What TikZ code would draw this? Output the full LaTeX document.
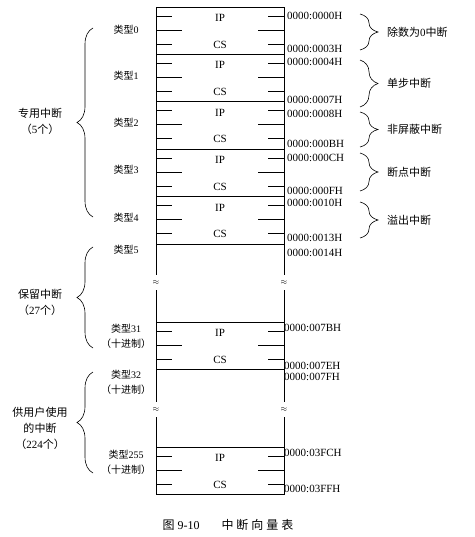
\documentclass[tikz,border=0pt]{standalone}
\usepackage{fontspec}
\setmainfont{Liberation Serif}
\newfontfamily\cjk{Noto Sans CJK SC}
\newfontfamily\cjkwide[LetterSpace=25]{Noto Sans CJK SC}
\usetikzlibrary{decorations.pathreplacing}

\begin{document}
\begin{tikzpicture}[
    x=1pt, y=-1pt,
    every node/.style={inner sep=0pt},
    cell/.style={line width=0.8pt},
    tick/.style={line width=0.6pt},
    word/.style={font=\fontsize{11}{13}\selectfont},
    typ/.style={font=\fontsize{10}{15}\selectfont, align=center},
    addr/.style={font=\fontsize{11}{13}\selectfont, anchor=west},
    note/.style={font=\fontsize{11}{13}\selectfont, anchor=west},
    grp/.style={font=\cjk\fontsize{11}{16}\selectfont, align=center},
    rbrace/.style={decorate, decoration={brace, amplitude=18pt}, line width=0.6pt},
    lbrace/.style={decorate, decoration={brace, amplitude=16pt}, line width=0.6pt},
]
\useasboundingbox (0,0) rectangle (474,537);
\def\xl{156}
\def\xr{284}

% ---------------- the vector slots
\foreach \t/\n in {7/s0, 54.4/s1, 101.8/s2, 149.2/s3, 196.6/s4, 322/s31, 447/s255}{
    \draw[cell] (\xl,\t) rectangle (\xr,\t+47.4);
    \draw[tick] (\xl,\t+9) -- ++(16,0)  (\xl,\t+23) -- ++(26,0)  (\xl,\t+37) -- ++(16,0);
    \draw[tick] (\xr,\t+9) -- ++(-16,0) (\xr,\t+23) -- ++(-26,0) (\xr,\t+37) -- ++(-16,0);
    \node[word] (\n ip) at (220,\t+11) {IP};
    \node[word] (\n cs) at (220,\t+37.5) {CS};
}

% ---------------- the open stretches
\draw[cell] (\xl,244) -- (\xl,275) (\xl,290) -- (\xl,322)
            (\xr,244) -- (\xr,275) (\xr,290) -- (\xr,322)
            (\xl,369.4) -- (\xl,402) (\xl,417) -- (\xl,447)
            (\xr,369.4) -- (\xr,402) (\xr,417) -- (\xr,447);
\foreach \x/\y/\n in {156/282/gl1, 284/282/gr1, 156/409/gl2, 284/409/gr2}
    \node[font=\fontsize{8}{8}\selectfont] (\n) at (\x,\y) {$\approx$};

% ---------------- left: type numbers
\foreach \y/\n/\txt in {30/t0/{{\cjk 类型}0}, 76/t1/{{\cjk 类型}1}, 123/t2/{{\cjk 类型}2},
        170/t3/{{\cjk 类型}3}, 218/t4/{{\cjk 类型}4}, 250/t5/{{\cjk 类型}5},
        336.5/t31/{{\cjk 类型}31\\{\cjk （十进制）}},
        382/t32/{{\cjk 类型}32\\{\cjk （十进制）}},
        462/t255/{{\cjk 类型}255\\{\cjk （十进制）}}}
    \node[typ] (\n) at (126,\y) {\txt};

% ---------------- right: addresses
\foreach \y/\ad in {16/0000, 49/0003, 62/0004, 100/0007, 114/0008, 144/000B,
        158/000C, 191/000F, 203/0010, 238/0013, 253/0014}
    \node[addr] (a\ad) at (287,\y) {0000:\ad H};
\foreach \y/\ad in {328/007B, 366/007E, 377/007F, 453/03FC, 489/03FF}
    \node[addr] (a\ad) at (284,\y) {0000:\ad H};

% ---------------- right: what the five fixed types are
\foreach \a/\b/\n/\txt in {14/50/div/{{\cjk 除数为}0{\cjk 中断}},
        60/107/single/{{\cjk 单步中断}}, 112/147/nmi/{{\cjk 非屏蔽中断}},
        153/191/brk/{{\cjk 断点中断}}, 202/238/ovf/{{\cjk 溢出中断}}}{
    \coordinate (\n top) at (360,\a);
    \coordinate (\n bot) at (360,\b);
    \draw[rbrace] (\n top) -- (\n bot);
    \node[note] (\n) at (387,{(\a+\b)/2}) {\txt};
}

% ---------------- left: groups
\foreach \a/\b/\y/\n/\txt in {28/217/121/ded/{专用中断\\（{\rmfamily 5}个）},
        247/348/302/res/{保留中断\\（{\rmfamily 27}个）},
        372/473/428/usr/{供用户使用\\的中断\\（{\rmfamily 224}个）}}{
    \coordinate (\n bot) at (93,\b);
    \coordinate (\n top) at (93,\a);
    \draw[lbrace] (\n bot) -- (\n top);
    \node[grp] (\n) at (40,\y) {\txt};
}

\node[font=\fontsize{12}{14}\selectfont] (caption) at (228,525)
    {{\cjk 图} 9-10\hspace{22pt}{\cjkwide 中断向量表}};

\end{tikzpicture}
\end{document}
